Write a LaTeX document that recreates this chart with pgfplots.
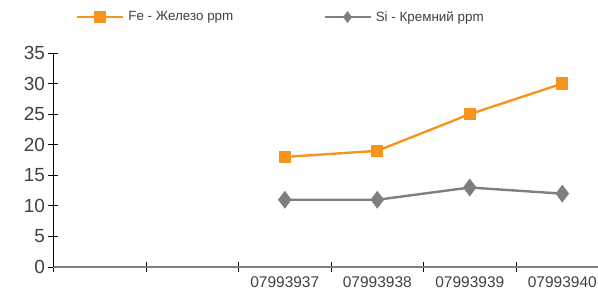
\documentclass[border=0pt]{standalone}
\usepackage{pgfplots}
\pgfplotsset{compat=1.18}
\usepackage{fontspec}
\setmainfont{Liberation Sans}
\definecolor{feor}{HTML}{F7941D}
\definecolor{sigr}{HTML}{7F7F7F}
\definecolor{txt}{HTML}{404040}
\pgfplotsset{
  felegend/.style={legend image code/.code={\draw[##1, mark size=4.5pt, mark repeat=2, mark phase=2] plot coordinates {(0pt,0pt) (23pt,0pt) (46pt,0pt)};}},
  silegend/.style={legend image code/.code={\draw[##1, mark size=4pt, mark repeat=2, mark phase=2] plot coordinates {(0pt,0pt) (23pt,0pt) (46pt,0pt)};}},
}
\begin{document}
\begin{tikzpicture}
\begin{axis}[
  at={(0pt,0pt)}, anchor=south west,
  scale only axis, width=544.5pt, height=214pt,
  xmin=-0.5, xmax=5.386, ymin=0, ymax=35,
  axis x line*=bottom, axis y line*=left,
  x axis line style={draw=sigr, line width=1.6pt},
  y axis line style={draw=black, line width=0.8pt},
  xtick={-0.5,0.5,1.5,2.5,3.5,4.5}, xticklabels={},
  extra x ticks={2,3,4,5},
  extra x tick labels={07993937,07993938,07993939,07993940},
  extra x tick style={major tick length=0pt, xticklabel style={yshift=-6pt}},
  ytick={0,5,10,15,20,25,30,35},
  tick align=center, major tick length=10pt,
  tick style={black, line width=0.8pt},
  /pgf/number format/assume math mode=true,
  yticklabel style={font=\fontsize{19}{19}\selectfont, text=txt},
  xticklabel style={font=\fontsize{15.5}{15.5}\selectfont, text=txt},
  clip=false,
  legend columns=2,
  legend style={at={(axis description cs:0.0413,1.168)}, anchor=west, draw=none, fill=none,
    inner sep=0pt, outer sep=0pt,
    nodes={inner sep=0pt, font=\fontsize{13.4}{13.4}\selectfont, text=txt},
    column sep=4pt,
    /tikz/every even column/.append style={column sep=90pt}},
]
\addplot[color=feor, line width=2.4pt, mark=square*, mark size=5pt, felegend]
  coordinates {(2,18) (3,19) (4,25) (5,30)};
\addlegendentry{Fe - Железо ppm}
\addplot[color=sigr, line width=2.4pt, mark=diamond*, mark size=7pt, silegend]
  coordinates {(2,11) (3,11) (4,13) (5,12)};
\addlegendentry{Si - Кремний ppm}
\end{axis}
\pgfresetboundingbox
\useasboundingbox (-53.5pt,-26pt) rectangle (544.5pt,267pt);
\end{tikzpicture}
\end{document}
